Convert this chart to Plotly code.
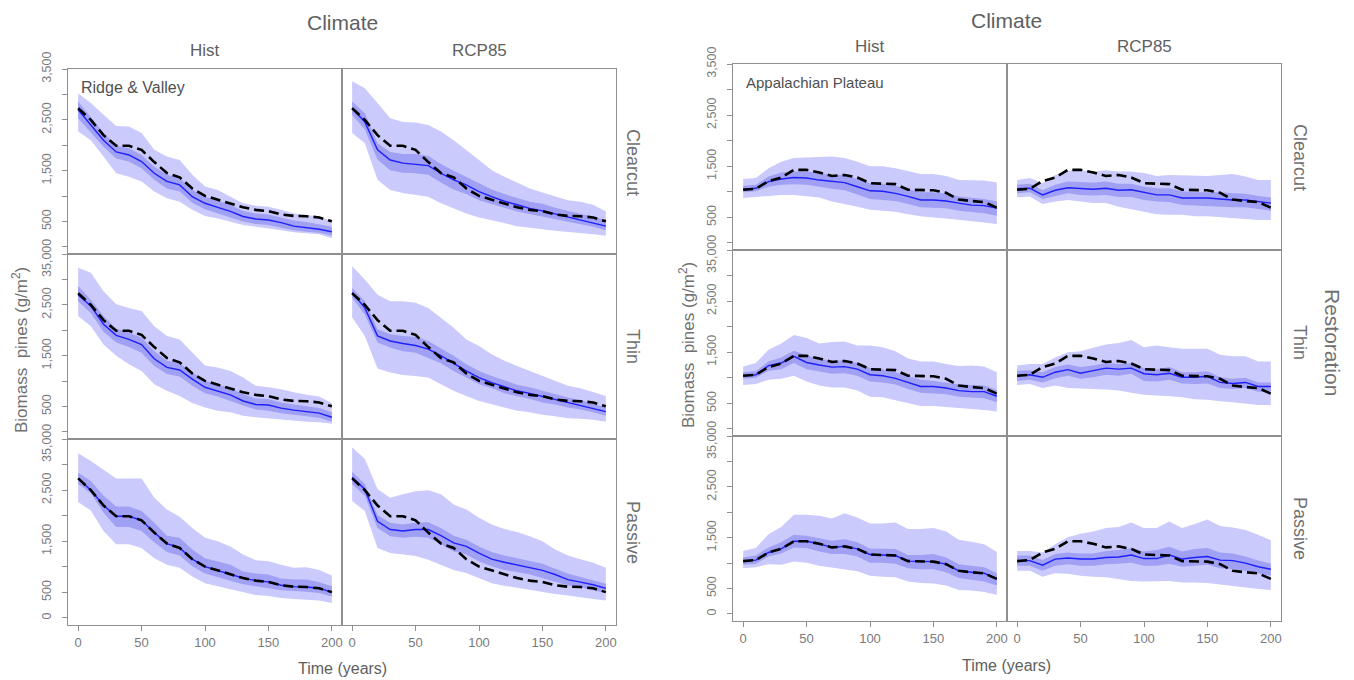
import plotly.graph_objects as go

W, H = 1354, 680
years = list(range(0, 201, 10))

climates = ["Hist", "RCP85"]
treatments = ["Clearcut", "Thin", "Passive"]
regions = ["Ridge & Valley", "Appalachian Plateau"]

# ---------------- Ridge & Valley ----------------
rv_ref = [2730, 2500, 2200, 1990, 1990, 1910, 1670, 1455, 1370, 1150, 1005, 930, 860, 780, 730, 705, 640, 612, 605, 580, 505]

rv_hist_clearcut_mean = [2700, 2400, 2100, 1870, 1810, 1680, 1450, 1290, 1220, 990, 860, 780, 700, 600, 550, 530, 480, 410, 380, 350, 300]
rv_hist_clearcut_in_hi = [2860, 2560, 2240, 1990, 1940, 1810, 1580, 1420, 1350, 1120, 990, 910, 830, 710, 660, 640, 580, 520, 490, 450, 400]
rv_hist_clearcut_in_lo = [2530, 2250, 1970, 1740, 1680, 1550, 1320, 1150, 1090, 870, 740, 660, 580, 500, 450, 430, 380, 330, 300, 280, 220]
rv_hist_clearcut_out_hi = [3020, 2830, 2600, 2380, 2370, 2240, 1910, 1780, 1710, 1420, 1190, 1120, 990, 860, 810, 790, 730, 660, 630, 600, 500]
rv_hist_clearcut_out_lo = [2270, 2100, 1780, 1450, 1380, 1290, 1090, 960, 890, 730, 610, 560, 500, 430, 400, 370, 330, 290, 270, 250, 170]

rv_hist_thin_mean = [2700, 2480, 2120, 1900, 1820, 1720, 1440, 1270, 1220, 1040, 880, 810, 730, 610, 540, 530, 470, 430, 400, 370, 290]
rv_hist_thin_in_hi = [2870, 2600, 2280, 2030, 1950, 1860, 1590, 1400, 1350, 1170, 1010, 940, 860, 740, 660, 650, 580, 540, 500, 470, 390]
rv_hist_thin_in_lo = [2570, 2340, 1970, 1760, 1670, 1560, 1300, 1140, 1090, 910, 760, 700, 610, 520, 440, 420, 370, 330, 310, 280, 200]
rv_hist_thin_out_hi = [3230, 3130, 2770, 2510, 2440, 2380, 2080, 1890, 1820, 1560, 1310, 1270, 1200, 1070, 910, 880, 840, 780, 730, 700, 570]
rv_hist_thin_out_lo = [2280, 2080, 1720, 1500, 1330, 1200, 940, 810, 710, 570, 480, 420, 390, 320, 290, 270, 240, 220, 200, 190, 160]

rv_hist_passive_mean = [2730, 2500, 2200, 1990, 1990, 1910, 1670, 1455, 1370, 1150, 1005, 930, 860, 780, 730, 705, 640, 612, 605, 580, 505]
rv_hist_passive_in_hi = [2840, 2680, 2390, 2180, 2180, 2090, 1860, 1610, 1570, 1340, 1170, 1110, 1040, 910, 870, 850, 770, 750, 750, 700, 620]
rv_hist_passive_in_lo = [2620, 2440, 2060, 1780, 1780, 1700, 1480, 1290, 1220, 1010, 870, 800, 730, 660, 620, 580, 540, 520, 510, 490, 420]
rv_hist_passive_out_hi = [3220, 3070, 2900, 2730, 2730, 2730, 2350, 2120, 1980, 1760, 1570, 1500, 1400, 1240, 1130, 1110, 1040, 980, 990, 940, 830]
rv_hist_passive_out_lo = [2270, 2100, 1700, 1440, 1440, 1370, 1170, 1040, 980, 810, 680, 620, 560, 500, 450, 430, 390, 370, 350, 340, 290]

rv_rcp_clearcut_mean = [2730, 2460, 1910, 1710, 1650, 1630, 1600, 1450, 1320, 1220, 1090, 990, 900, 830, 760, 710, 650, 600, 540, 480, 410]
rv_rcp_clearcut_in_hi = [2860, 2630, 2040, 1870, 1830, 1830, 1790, 1630, 1500, 1380, 1250, 1130, 1040, 960, 890, 850, 770, 710, 660, 600, 530]
rv_rcp_clearcut_in_lo = [2600, 2310, 1720, 1510, 1460, 1450, 1420, 1270, 1130, 1040, 920, 850, 770, 700, 640, 600, 540, 500, 450, 400, 330]
rv_rcp_clearcut_out_hi = [3260, 3120, 2830, 2530, 2460, 2450, 2400, 2270, 2100, 1910, 1710, 1510, 1380, 1270, 1150, 1070, 990, 920, 890, 830, 700]
rv_rcp_clearcut_out_lo = [2240, 2040, 1320, 1120, 1060, 1020, 990, 860, 760, 660, 580, 520, 470, 410, 380, 350, 320, 290, 270, 250, 220]

rv_rcp_thin_mean = [2740, 2440, 1890, 1790, 1740, 1700, 1630, 1500, 1350, 1200, 1070, 970, 890, 810, 760, 700, 650, 580, 530, 460, 400]
rv_rcp_thin_in_hi = [2830, 2570, 2020, 1920, 1890, 1870, 1790, 1640, 1500, 1330, 1200, 1100, 1010, 930, 880, 810, 740, 680, 630, 560, 480]
rv_rcp_thin_in_lo = [2640, 2310, 1760, 1660, 1590, 1560, 1460, 1350, 1200, 1070, 940, 860, 760, 700, 650, 580, 540, 480, 440, 390, 320]
rv_rcp_thin_out_hi = [3260, 3000, 2700, 2570, 2570, 2540, 2440, 2250, 2050, 1820, 1690, 1530, 1400, 1300, 1200, 1100, 1010, 910, 860, 780, 710]
rv_rcp_thin_out_lo = [2250, 1890, 1250, 1170, 1120, 1100, 1070, 940, 810, 710, 610, 550, 480, 420, 390, 340, 310, 270, 260, 240, 200]

rv_rcp_passive_mean = [2750, 2520, 1890, 1730, 1700, 1730, 1730, 1610, 1470, 1400, 1270, 1150, 1090, 1040, 990, 930, 850, 750, 700, 650, 580]
rv_rcp_passive_in_hi = [2860, 2620, 2010, 1860, 1830, 1860, 1870, 1760, 1610, 1530, 1400, 1290, 1220, 1170, 1120, 1060, 960, 870, 800, 730, 670]
rv_rcp_passive_in_lo = [2620, 2390, 1760, 1600, 1570, 1590, 1570, 1440, 1300, 1240, 1110, 1010, 940, 900, 850, 790, 710, 640, 600, 550, 490]
rv_rcp_passive_out_hi = [3340, 3110, 2520, 2350, 2420, 2480, 2500, 2420, 2220, 2120, 1960, 1830, 1740, 1680, 1600, 1500, 1340, 1220, 1150, 1080, 980]
rv_rcp_passive_out_lo = [2290, 2090, 1370, 1270, 1240, 1210, 1140, 1040, 940, 880, 780, 680, 630, 580, 550, 510, 470, 440, 410, 370, 340]

# ---------------- Appalachian Plateau ----------------
ap_ref = [1040, 1060, 1210, 1280, 1430, 1430, 1380, 1310, 1330, 1280, 1170, 1160, 1150, 1040, 1030, 1030, 980, 850, 820, 800, 690]

ap_hist_clearcut_mean = [1050, 1070, 1200, 1250, 1280, 1270, 1230, 1200, 1180, 1100, 1020, 1010, 970, 910, 840, 840, 820, 780, 740, 730, 680]
ap_hist_clearcut_in_hi = [1120, 1140, 1300, 1380, 1400, 1400, 1370, 1330, 1330, 1250, 1170, 1160, 1120, 1050, 990, 990, 960, 910, 880, 860, 810]
ap_hist_clearcut_in_lo = [990, 1010, 1100, 1140, 1150, 1140, 1100, 1060, 1030, 950, 860, 840, 820, 760, 700, 690, 680, 630, 600, 580, 530]
ap_hist_clearcut_out_hi = [1250, 1270, 1460, 1590, 1660, 1670, 1670, 1690, 1660, 1590, 1500, 1500, 1460, 1400, 1350, 1350, 1310, 1230, 1220, 1220, 1180]
ap_hist_clearcut_out_lo = [880, 890, 920, 940, 940, 920, 890, 810, 760, 710, 650, 630, 610, 560, 520, 500, 480, 450, 430, 400, 370]

ap_hist_thin_mean = [1040, 1060, 1240, 1290, 1420, 1300, 1250, 1210, 1220, 1170, 1060, 1040, 990, 910, 830, 830, 800, 750, 730, 730, 640]
ap_hist_thin_in_hi = [1110, 1130, 1320, 1400, 1530, 1440, 1370, 1340, 1340, 1290, 1190, 1170, 1110, 1030, 960, 940, 910, 870, 860, 850, 760]
ap_hist_thin_in_lo = [980, 1000, 1140, 1170, 1290, 1170, 1130, 1080, 1090, 1040, 930, 910, 870, 780, 710, 700, 680, 630, 620, 600, 520]
ap_hist_thin_out_hi = [1220, 1290, 1550, 1670, 1840, 1780, 1670, 1700, 1710, 1630, 1630, 1600, 1520, 1380, 1320, 1320, 1270, 1230, 1240, 1220, 1110]
ap_hist_thin_out_lo = [860, 880, 960, 980, 1040, 930, 850, 810, 810, 750, 630, 620, 560, 500, 450, 450, 440, 410, 390, 370, 340]

ap_hist_passive_mean = [1040, 1060, 1210, 1280, 1430, 1430, 1380, 1310, 1330, 1280, 1170, 1160, 1150, 1040, 1030, 1030, 980, 850, 820, 800, 690]
ap_hist_passive_in_hi = [1110, 1150, 1310, 1410, 1560, 1540, 1490, 1440, 1470, 1410, 1290, 1280, 1280, 1160, 1160, 1180, 1110, 980, 950, 920, 800]
ap_hist_passive_in_lo = [970, 990, 1130, 1190, 1310, 1300, 1230, 1180, 1180, 1130, 1010, 1010, 990, 900, 880, 880, 820, 710, 670, 640, 560]
ap_hist_passive_out_hi = [1240, 1300, 1570, 1710, 1950, 1950, 1930, 1880, 1980, 1900, 1780, 1780, 1800, 1670, 1670, 1690, 1620, 1460, 1420, 1370, 1220]
ap_hist_passive_out_lo = [900, 920, 980, 970, 1030, 1010, 950, 920, 880, 840, 750, 730, 720, 640, 610, 600, 560, 470, 460, 430, 380]

ap_rcp_clearcut_mean = [1060, 1070, 940, 1030, 1080, 1060, 1050, 1070, 1030, 1040, 990, 940, 940, 880, 880, 880, 860, 840, 840, 810, 780]
ap_rcp_clearcut_in_hi = [1140, 1160, 1030, 1140, 1200, 1190, 1180, 1200, 1160, 1160, 1100, 1070, 1070, 1010, 990, 990, 990, 970, 960, 920, 890]
ap_rcp_clearcut_in_lo = [970, 990, 860, 920, 970, 940, 930, 940, 900, 900, 840, 810, 800, 740, 730, 730, 710, 700, 700, 670, 630]
ap_rcp_clearcut_out_hi = [1230, 1270, 1170, 1330, 1410, 1420, 1400, 1420, 1400, 1400, 1370, 1310, 1330, 1320, 1320, 1310, 1330, 1350, 1300, 1230, 1230]
ap_rcp_clearcut_out_lo = [890, 910, 760, 810, 840, 810, 780, 780, 710, 660, 610, 560, 550, 550, 520, 520, 500, 480, 470, 450, 450]

ap_rcp_thin_mean = [1040, 1060, 1010, 1110, 1160, 1090, 1140, 1190, 1170, 1190, 1080, 1060, 1090, 1010, 1010, 1030, 910, 890, 910, 830, 830]
ap_rcp_thin_in_hi = [1140, 1150, 1110, 1210, 1260, 1210, 1240, 1290, 1270, 1290, 1190, 1170, 1210, 1110, 1110, 1130, 1010, 980, 1000, 910, 910]
ap_rcp_thin_in_lo = [940, 960, 910, 990, 1040, 980, 1010, 1060, 1040, 1080, 940, 930, 960, 890, 880, 890, 800, 780, 800, 730, 730]
ap_rcp_thin_out_hi = [1240, 1270, 1270, 1400, 1500, 1520, 1590, 1650, 1680, 1740, 1600, 1630, 1600, 1570, 1570, 1570, 1450, 1420, 1420, 1320, 1320]
ap_rcp_thin_out_lo = [860, 880, 800, 850, 800, 790, 780, 770, 750, 710, 670, 660, 640, 620, 580, 570, 540, 520, 500, 470, 470]

ap_rcp_passive_mean = [1050, 1050, 960, 1080, 1100, 1080, 1080, 1110, 1120, 1160, 1090, 1090, 1160, 1080, 1110, 1130, 1060, 1050, 1000, 930, 880]
ap_rcp_passive_in_hi = [1150, 1150, 1060, 1180, 1210, 1190, 1190, 1240, 1260, 1300, 1230, 1260, 1320, 1230, 1280, 1300, 1210, 1190, 1130, 1050, 990]
ap_rcp_passive_in_lo = [950, 950, 850, 950, 980, 950, 950, 980, 990, 1010, 950, 950, 990, 930, 950, 970, 900, 880, 850, 800, 750]
ap_rcp_passive_out_hi = [1240, 1240, 1210, 1370, 1510, 1580, 1620, 1690, 1710, 1800, 1690, 1690, 1820, 1690, 1770, 1860, 1730, 1700, 1650, 1560, 1450]
ap_rcp_passive_out_lo = [850, 850, 730, 800, 790, 750, 730, 720, 690, 650, 640, 640, 650, 620, 620, 610, 580, 540, 520, 490, 470]

# labelled y ticks per facet row (unlabelled marks every 500 come from minor ticks)
y_labels_top = [500, 1500, 2500, 3500]
y_labels_mid = [500, 1500, 2500]
y_labels_bottom = [0, 500, 1500, 2500]
x_tick_vals = [0, 50, 100, 150, 200]

g = globals()
def series(prefix, clim, treat):
    key = f"{prefix}_{'hist' if clim == 'Hist' else 'rcp'}_{treat.lower()}"
    return (g[key + "_mean"], g[key + "_in_lo"], g[key + "_in_hi"],
            g[key + "_out_lo"], g[key + "_out_hi"])

# layout geometry (window pixels)
geom = [
    dict(prefix="rv", ref=rv_ref, cols=[(68, 342), (342, 616)],
         rows=[(69, 254), (254, 439), (439, 625)], ticklab_x=47),
    dict(prefix="ap", ref=ap_ref, cols=[(733, 1007), (1007, 1281)],
         rows=[(64, 250), (250, 436), (436, 621)], ticklab_x=712),
]

def fx(p):
    return p / W

def fy(p):
    return 1 - p / H

FONT = "Arial, Liberation Sans, sans-serif"
FRAME = "#8f8f8f"
OUT_FILL = "rgb(202,202,252)"
IN_FILL = "rgb(160,160,244)"
TICK_FONT = dict(size=12.5, color="#7a7a7a", family=FONT)

fig = go.Figure()
layout = dict(width=W, height=H, margin=dict(l=0, r=0, t=0, b=0, autoexpand=False),
              paper_bgcolor="white", plot_bgcolor="white", showlegend=False,
              font=dict(family=FONT))
annotations = []

idx = 0
for r, gm in enumerate(geom):
    for ri, treat in enumerate(treatments):
        for ci, clim in enumerate(climates):
            idx += 1
            xa = "x" if idx == 1 else f"x{idx}"
            ya = "y" if idx == 1 else f"y{idx}"
            mean, in_lo, in_hi, out_lo, out_hi = series(gm["prefix"], clim, treat)
            poly_x = years + years[::-1]
            fig.add_trace(go.Scatter(x=poly_x, y=out_hi + out_lo[::-1], fill="toself",
                                     fillcolor=OUT_FILL, mode="lines",
                                     line=dict(width=0, color=OUT_FILL),
                                     hoverinfo="skip", xaxis=xa, yaxis=ya))
            fig.add_trace(go.Scatter(x=poly_x, y=in_hi + in_lo[::-1], fill="toself",
                                     fillcolor=IN_FILL, mode="lines",
                                     line=dict(width=0, color=IN_FILL),
                                     hoverinfo="skip", xaxis=xa, yaxis=ya))
            fig.add_trace(go.Scatter(x=years, y=mean, mode="lines",
                                     line=dict(color="#1f1fff", width=1.4),
                                     xaxis=xa, yaxis=ya))
            fig.add_trace(go.Scatter(x=years, y=gm["ref"], mode="lines",
                                     line=dict(color="black", width=2.6, dash="10px,5px"),
                                     xaxis=xa, yaxis=ya))

            x0, x1 = gm["cols"][ci]
            y0, y1 = gm["rows"][ri]
            xkey = "xaxis" if idx == 1 else f"xaxis{idx}"
            ykey = "yaxis" if idx == 1 else f"yaxis{idx}"
            bottom = ri == 2
            left = ci == 0
            layout[xkey] = dict(domain=[fx(x0), fx(x1)], range=[-8, 208], anchor=ya,
                                automargin=False,
                                showline=True, mirror=True, linecolor=FRAME, linewidth=1.2,
                                showgrid=False, zeroline=False,
                                ticks="outside" if bottom else "", ticklen=5,
                                tickcolor=FRAME, tickwidth=1.2,
                                tickvals=x_tick_vals, showticklabels=bottom,
                                tickfont=dict(size=13, color="#7a7a7a", family=FONT))
            labels = [y_labels_top, y_labels_mid, y_labels_bottom][ri]
            layout[ykey] = dict(domain=[fy(y1), fy(y0)], range=[-138, 3500.5], anchor=xa,
                                automargin=False,
                                showline=True, mirror=True, linecolor=FRAME, linewidth=1.2,
                                showgrid=False, zeroline=False,
                                ticks="outside" if left else "", ticklen=5,
                                tickcolor=FRAME, tickwidth=1.2,
                                tickvals=labels, ticktext=[f"{v:,}" for v in labels],
                                showticklabels=left, tickangle=-90,
                                ticklabelstandoff=6, tickfont=TICK_FONT,
                                minor=dict(ticks="outside" if left else "", ticklen=5,
                                           tick0=0, dtick=500, tickcolor=FRAME,
                                           tickwidth=1.2, showgrid=False))
            # the overlapping "0"/"3,500" labels at a row boundary read as "35,000"
            if ri > 0 and left:
                annotations.append(dict(text="35,000", x=fx(gm["ticklab_x"]), y=fy(y0 + 4),
                                        showarrow=False, xref="paper", yref="paper",
                                        textangle=-90, xanchor="center", yanchor="middle",
                                        font=TICK_FONT))

    # text around each region
    mid = gm["cols"][0][1]
    climate_y = 23 if r == 0 else 20
    head_y = 51 if r == 0 else 47
    annotations.append(dict(text="Climate", x=fx(mid), y=fy(climate_y), showarrow=False,
                            xref="paper", yref="paper", xanchor="center", yanchor="middle",
                            font=dict(size=21, color="#606060", family=FONT)))
    for ci, clim in enumerate(climates):
        c0, c1 = gm["cols"][ci]
        annotations.append(dict(text=clim, x=fx((c0 + c1) / 2), y=fy(head_y), showarrow=False,
                                xref="paper", yref="paper", xanchor="center", yanchor="middle",
                                font=dict(size=17, color="#606060", family=FONT)))
    row_lab_x = 633 if r == 0 else 1300
    row_centers = [[162, 346, 532], [157, 342, 528]][r]
    for ri, treat in enumerate(treatments):
        annotations.append(dict(text=treat, x=fx(row_lab_x), y=fy(row_centers[ri]),
                                showarrow=False, xref="paper", yref="paper", textangle=90,
                                xanchor="center", yanchor="middle",
                                font=dict(size=18, color="#707070", family=FONT)))
    ytitle_x = 20 if r == 0 else 687
    ytitle_y = 350 if r == 0 else 345
    annotations.append(dict(text="Biomass  pines (g/m<sup>2</sup>)", x=fx(ytitle_x), y=fy(ytitle_y),
                            showarrow=False, xref="paper", yref="paper", textangle=-90,
                            xanchor="center", yanchor="middle",
                            font=dict(size=17, color="#707070", family=FONT)))
    xtitle_y = 668 if r == 0 else 665
    annotations.append(dict(text="Time (years)", x=fx(mid), y=fy(xtitle_y), showarrow=False,
                            xref="paper", yref="paper", xanchor="center", yanchor="middle",
                            font=dict(size=16, color="#606060", family=FONT)))
    name_x = 79 if r == 0 else 744
    name_y = 87 if r == 0 else 82
    annotations.append(dict(text=regions[r], x=fx(name_x), y=fy(name_y), showarrow=False,
                            xref="paper", yref="paper", xanchor="left", yanchor="middle",
                            font=dict(size=16 if r == 0 else 15, color="#505050", family=FONT)))

annotations.append(dict(text="Restoration", x=fx(1333), y=fy(342), showarrow=False,
                        xref="paper", yref="paper", textangle=90,
                        xanchor="center", yanchor="middle",
                        font=dict(size=21, color="#707070", family=FONT)))

layout["annotations"] = annotations
fig.update_layout(**layout)
# drop the browser's default body margin so the figure fills the 1354x680 window
fig.write_html("out.html", config={"displayModeBar": False},
               post_script="document.body.style.margin='0px';")
